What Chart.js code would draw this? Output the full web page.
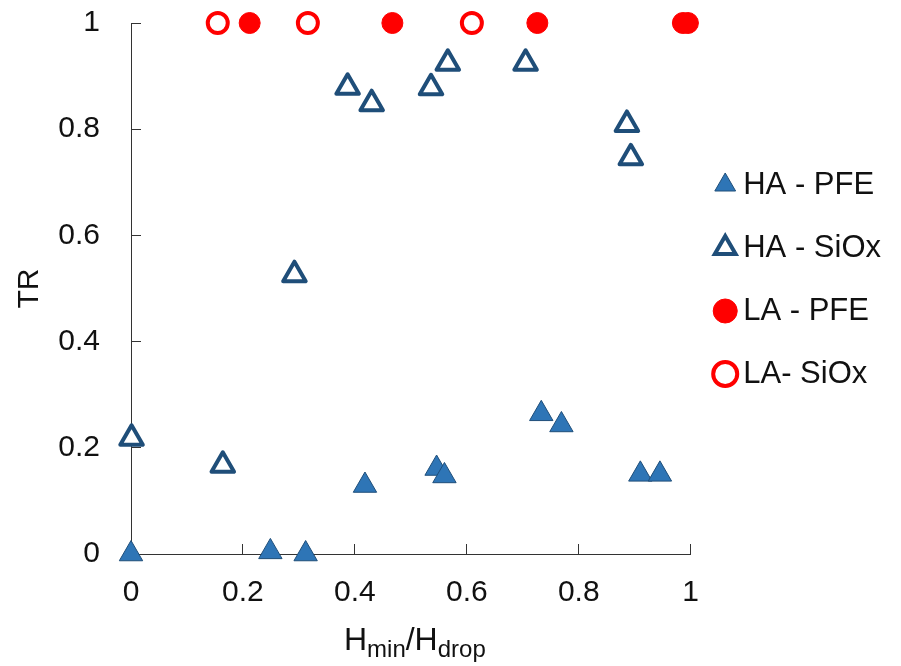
<!DOCTYPE html>
<html>
<head>
<meta charset="utf-8">
<title>TR vs Hmin/Hdrop</title>
<script src="https://cdn.jsdelivr.net/npm/chart.js@4"></script>
<style>
    html, body { margin: 0; padding: 0; background: #fff; }
    #wrap { width: 901px; height: 666px; }
</style>
</head>
<body>
<div id="wrap"><canvas id="trChart" width="901" height="666"></canvas></div>
<script>
// HA - PFE
const haPfeX = [0, 0.249, 0.312, 0.418, 0.546, 0.560, 0.733, 0.769, 0.910, 0.945];
const haPfeY = [0, 0.004, 0, 0.129, 0.161, 0.147, 0.264, 0.243, 0.150, 0.150];

// HA - SiOx
const haSioxX = [0.001, 0.164, 0.292, 0.387, 0.430, 0.536, 0.566, 0.705, 0.886, 0.893];
const haSioxY = [0.218, 0.167, 0.526, 0.879, 0.848, 0.878, 0.924, 0.924, 0.809, 0.746];

// LA - PFE
const laPfeX = [0.212, 0.467, 0.726, 0.986, 0.995];
const laPfeY = [1, 1, 1, 1, 1];

// LA - SiOx
const laSioxX = [0.155, 0.316, 0.609];
const laSioxY = [1, 1, 1];

const seriesLabels = ['HA - PFE', 'HA - SiOx', 'LA - PFE', 'LA- SiOx'];
const xTicks = [0, 0.2, 0.4, 0.6, 0.8, 1];
const yTicks = [0, 0.2, 0.4, 0.6, 0.8, 1];

const FONT = '"Liberation Sans", Arial, sans-serif';
const AXIS_COLOR = '#333333';
const TEXT_COLOR = '#111111';

function toPoints(xs, ys) {
    return xs.map((x, i) => ({ x: x, y: ys[i] }));
}

// fixed axis sizes; no extra padding from the tick labels
function fixScale(size) {
    return scale => {
        if (scale.isHorizontal()) {
            scale.height = size;
        } else {
            scale.width = size;
        }
        scale.paddingTop = 0;
        scale.paddingBottom = 0;
        scale.paddingLeft = 0;
        scale.paddingRight = 0;
    };
}

// x axis title with subscripts: H_min / H_drop
const xTitlePlugin = {
    id: 'xTitle',
    afterDraw(chart) {
        const ctx = chart.ctx;
        const area = chart.chartArea;
        const parts = [
            { text: 'H', size: 32, sub: false },
            { text: 'min', size: 24, sub: true },
            { text: '/H', size: 32, sub: false },
            { text: 'drop', size: 24, sub: true }
        ];
        const baseY = 650;
        ctx.save();
        ctx.fillStyle = TEXT_COLOR;
        ctx.textBaseline = 'alphabetic';
        ctx.textAlign = 'left';
        let total = 0;
        parts.forEach(p => {
            ctx.font = p.size + 'px ' + FONT;
            p.w = ctx.measureText(p.text).width;
            total += p.w;
        });
        let x = (area.left + area.right) / 2 - total / 2 + 4;
        parts.forEach(p => {
            ctx.font = p.size + 'px ' + FONT;
            ctx.fillText(p.text, x, p.sub ? baseY + 7 : baseY);
            x += p.w;
        });
        ctx.restore();
    }
};

// rounded corners on the outlined markers
const roundJoinPlugin = {
    id: 'roundJoin',
    beforeDraw(chart) {
        chart.ctx.lineJoin = 'round';
    }
};

// nudge the legend block a little above the plot's middle
const legendShiftPlugin = {
    id: 'legendShift',
    afterLayout(chart) {
        chart.legend.top -= 9;
        chart.legend.bottom -= 9;
    }
};

function createTrChart() {
    const ctx = document.getElementById('trChart').getContext('2d');
    new Chart(ctx, {
        type: 'scatter',
        data: {
            datasets: [{
                label: seriesLabels[0],
                data: toPoints(haPfeX, haPfeY),
                pointStyle: 'triangle',
                pointRadius: 13.5,
                backgroundColor: '#2E75B6',
                borderColor: '#1F4E79',
                borderWidth: 1
            }, {
                label: seriesLabels[1],
                data: toPoints(haSioxX, haSioxY),
                pointStyle: 'triangle',
                pointRadius: 13,
                backgroundColor: '#ffffff',
                borderColor: '#1F4E79',
                borderWidth: 4
            }, {
                label: seriesLabels[2],
                data: toPoints(laPfeX, laPfeY),
                pointStyle: 'circle',
                pointRadius: 10.5,
                backgroundColor: '#FF0000',
                borderColor: '#FF0000',
                borderWidth: 1
            }, {
                label: seriesLabels[3],
                data: toPoints(laSioxX, laSioxY),
                pointStyle: 'circle',
                pointRadius: 10,
                backgroundColor: '#ffffff',
                borderColor: '#FF0000',
                borderWidth: 4
            }]
        },
        options: {
            responsive: false,
            animation: false,
            events: [],
            clip: false,
            layout: {
                autoPadding: false,
                padding: { top: 23, right: 10, bottom: 0, left: 0 }
            },
            scales: {
                x: {
                    type: 'linear',
                    min: 0,
                    max: 1,
                    afterBuildTicks: scale => {
                        scale.ticks = xTicks.map(v => ({ value: v }));
                    },
                    afterFit: fixScale(112),
                    grid: {
                        drawOnChartArea: false,
                        tickLength: -10,
                        color: AXIS_COLOR,
                        tickColor: AXIS_COLOR
                    },
                    border: { color: AXIS_COLOR, width: 1 },
                    ticks: {
                        color: TEXT_COLOR,
                        padding: 31,
                        maxRotation: 0,
                        callback: v => String(v),
                        font: { family: FONT, size: 30 }
                    }
                },
                y: {
                    type: 'linear',
                    min: 0,
                    max: 1,
                    afterBuildTicks: scale => {
                        scale.ticks = yTicks.map(v => ({ value: v }));
                    },
                    afterFit: fixScale(131),
                    grid: {
                        drawOnChartArea: false,
                        tickLength: -10,
                        color: AXIS_COLOR,
                        tickColor: AXIS_COLOR
                    },
                    border: { color: AXIS_COLOR, width: 1 },
                    ticks: {
                        color: TEXT_COLOR,
                        padding: 41,
                        callback: v => String(v),
                        font: { family: FONT, size: 30 }
                    },
                    title: {
                        display: true,
                        text: 'TR',
                        color: TEXT_COLOR,
                        padding: { top: 12, bottom: 0 },
                        font: { family: FONT, size: 30 }
                    }
                }
            },
            plugins: {
                legend: {
                    position: 'right',
                    fullSize: false,
                    labels: {
                        usePointStyle: true,
                        boxWidth: 5,
                        boxHeight: 17,
                        padding: 32,
                        color: TEXT_COLOR,
                        font: { family: FONT, size: 31 }
                    }
                },
                tooltip: { enabled: false }
            }
        },
        plugins: [roundJoinPlugin, legendShiftPlugin, xTitlePlugin]
    });
}

createTrChart();
</script>
</body>
</html>
